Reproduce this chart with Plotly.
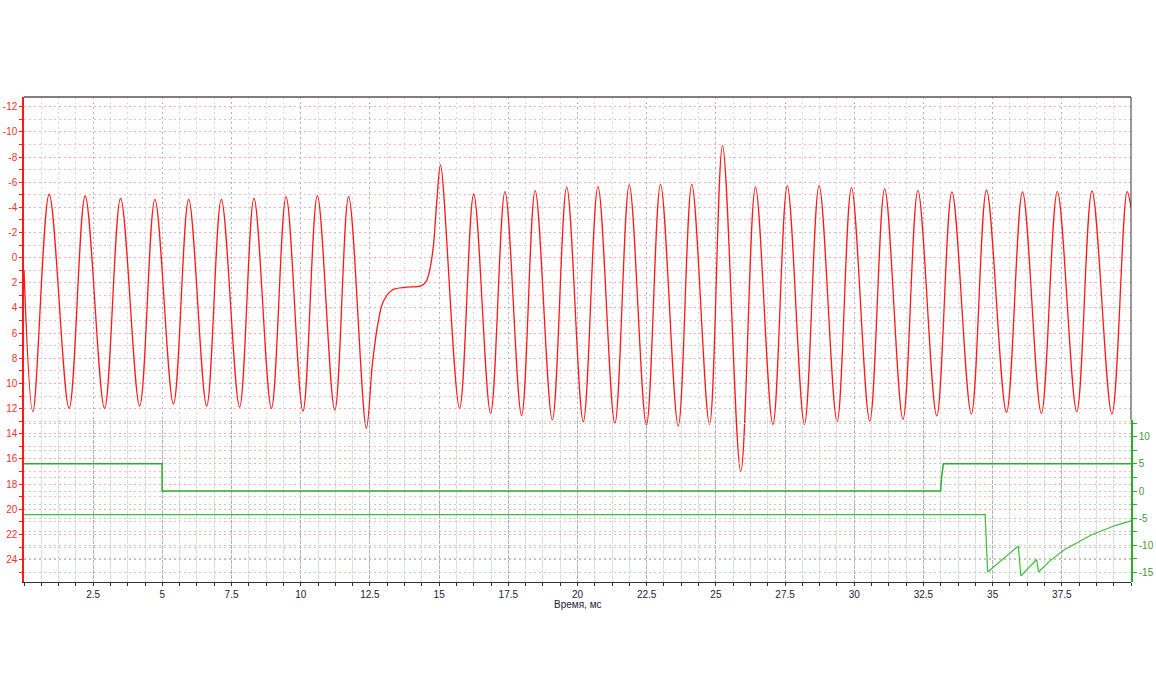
import plotly.graph_objects as go

# ---- data ----
red_t = [0.0, 0.32, 0.91, 1.63, 2.21, 2.91, 3.49, 4.18, 4.73, 5.40, 5.95, 6.60, 7.13, 7.79, 8.31,
         8.94, 9.47, 10.08, 10.60, 11.23, 11.73, 12.37, 12.59, 12.79, 12.98, 13.31, 13.83, 14.34,
         14.53, 14.66, 14.79, 14.92, 15.05, 15.74, 16.25, 16.86, 17.38, 17.98, 18.47, 19.09, 19.61,
         20.21, 20.74, 21.35, 21.87, 22.49, 23.00, 23.64, 24.13, 24.77, 25.24, 25.90, 26.43, 27.06,
         27.58, 28.20, 28.73, 29.38, 29.90, 30.56, 31.10, 31.76, 32.30, 32.98, 33.53, 34.23, 34.78,
         35.50, 36.08, 36.76, 37.34, 38.04, 38.59, 39.31, 39.86, 40.0]
red_v = [1.0, 12.24, -5.04, 11.97, -4.90, 11.97, -4.72, 11.79, -4.64, 11.63, -4.64, 11.79, -4.64,
         11.87, -4.72, 11.97, -4.85, 12.19, -4.93, 12.13, -4.85, 13.56, 8.4, 5.22, 3.5, 2.57, 2.35,
         2.25, 1.9, 0.98, -0.88, -4.59, -7.37, 11.97, -5.04, 12.37, -5.25, 12.56, -5.33, 12.9, -5.6,
         13.03, -5.65, 13.17, -5.78, 13.3, -5.83, 13.38, -5.83, 13.25, -8.9, 17.0, -5.6, 13.25,
         -5.7, 13.25, -5.73, 13.03, -5.57, 12.98, -5.46, 12.85, -5.33, 12.58, -5.22, 12.42, -5.36,
         12.29, -5.22, 12.37, -5.25, 12.24, -5.3, 12.42, -5.25, -4.0]

step_t = [0.0, 4.99, 4.99, 33.12, 33.15, 33.22, 40.0]
step_v = [5.0, 5.0, 0.0, 0.0, 2.3, 5.0, 5.0]

low_t = [0.0, 34.73, 34.82, 35.93, 36.02, 36.59, 36.66, 37.10, 37.59, 38.10, 38.56, 39.40, 40.0]
low_v = [-4.35, -4.35, -14.9, -10.1, -15.6, -12.6, -14.9, -12.7, -10.8, -9.3, -8.1, -6.4, -5.5]

left_ticks = [-12, -10, -8, -6, -4, -2, 0, 2, 4, 6, 8, 10, 12, 14, 16, 18, 20, 22, 24]
left_text = ["-12", "-10", "-8", "-6", "-4", "-2", "0", "2", "4", "6", "8", "10", "12", "14",
             "16", "18", "20", "22", "24"]
right_ticks = [10, 5, 0, -5, -10, -15]
right_text = ["10", "5", "0", "-5", "-10", "-15"]
x_ticks = [2.5, 5, 7.5, 10, 12.5, 15, 17.5, 20, 22.5, 25, 27.5, 30, 32.5, 35, 37.5]
x_text = ["2.5", "5", "7.5", "10", "12.5", "15", "17.5", "20", "22.5", "25", "27.5", "30",
          "32.5", "35", "37.5"]
x_title = "Время, мс"

RED = "rgb(255,25,25)"
GREEN = "rgb(40,175,40)"
FONT = "Liberation Sans"
FS = 10
DOT = "2px,3px"

fig = go.Figure()
fig.add_trace(go.Scatter(x=red_t, y=red_v, mode="lines", line=dict(color=RED, width=1.3, shape="spline"),
                         xaxis="x", yaxis="y", showlegend=False, hoverinfo="skip"))
fig.add_trace(go.Scatter(x=step_t, y=step_v, mode="lines", line=dict(color=GREEN, width=1.5),
                         xaxis="x", yaxis="y2", showlegend=False, hoverinfo="skip"))
fig.add_trace(go.Scatter(x=low_t, y=low_v, mode="lines", line=dict(color="rgb(60,190,60)", width=1.2),
                         xaxis="x", yaxis="y2", showlegend=False, hoverinfo="skip"))

fig.update_layout(
    width=1156, height=700,
    margin=dict(l=24, r=25, t=97, b=118),
    paper_bgcolor="white", plot_bgcolor="rgba(0,0,0,0)",
    font=dict(family=FONT, size=FS, color="#1a1a3a"),
    xaxis=dict(
        range=[0, 40], domain=[0, 1], anchor="y",
        tickvals=x_ticks, ticktext=x_text, ticks="outside", ticklen=3, tickcolor="#333",
        showgrid=True, gridcolor="rgb(175,175,205)", griddash=DOT, gridwidth=1,
        minor=dict(dtick=0.625, tick0=0, showgrid=True, gridcolor="rgb(215,215,230)", griddash=DOT,
                   ticks="outside", ticklen=3, tickcolor="#333"),
        showline=True, linecolor="#333", linewidth=1,
        zeroline=False, automargin=False,
        tickfont=dict(family=FONT, size=FS, color="#1a1a3a"),
    ),
    yaxis=dict(
        range=[25.78, -12.77], domain=[0, 1], anchor="x",
        tickvals=left_ticks, ticktext=left_text, ticks="outside", ticklen=3, tickcolor=RED,
        showgrid=True, gridcolor="rgb(255,170,170)", griddash=DOT,
        minor=dict(dtick=1, tick0=0, showgrid=True, gridcolor="rgb(255,185,185)", griddash=DOT,
                   ticks="outside", ticklen=3, tickcolor=RED),
        showline=True, linecolor=RED, linewidth=1.5,
        zeroline=False, automargin=False,
        tickfont=dict(family=FONT, size=FS, color="rgb(255,45,45)"),
    ),
    yaxis2=dict(
        range=[-16.73, 13.05], domain=[0, 0.334], anchor="x", side="right",
        tickvals=right_ticks, ticktext=right_text, ticks="outside", ticklen=4, tickcolor=GREEN,
        showgrid=True, gridcolor="rgb(175,220,175)", griddash=DOT,
        minor=dict(dtick=2.5, tick0=0, showgrid=True, gridcolor="rgb(175,220,175)", griddash=DOT,
                   ticks="outside", ticklen=4, tickcolor=GREEN),
        showline=True, linecolor=GREEN, linewidth=1.5,
        zeroline=False, automargin=False,
        tickfont=dict(family=FONT, size=FS, color="rgb(70,150,60)"),
    ),
    shapes=[
        dict(type="line", xref="paper", yref="paper", x0=0, x1=1, y0=1, y1=1,
             line=dict(color="#555", width=1.5)),
        dict(type="line", xref="paper", yref="paper", x0=1, x1=1, y0=0.334, y1=1,
             line=dict(color="#333", width=1)),
    ],
    annotations=[
        dict(text=x_title, xref="paper", yref="paper", x=0.5, y=-0.0474, xanchor="center",
             yanchor="middle", showarrow=False, font=dict(family=FONT, size=FS, color="#1a1a3a")),
    ],
)

fig.write_html("out.html", config={"displayModeBar": False},
               post_script="document.body.style.margin='0';")
